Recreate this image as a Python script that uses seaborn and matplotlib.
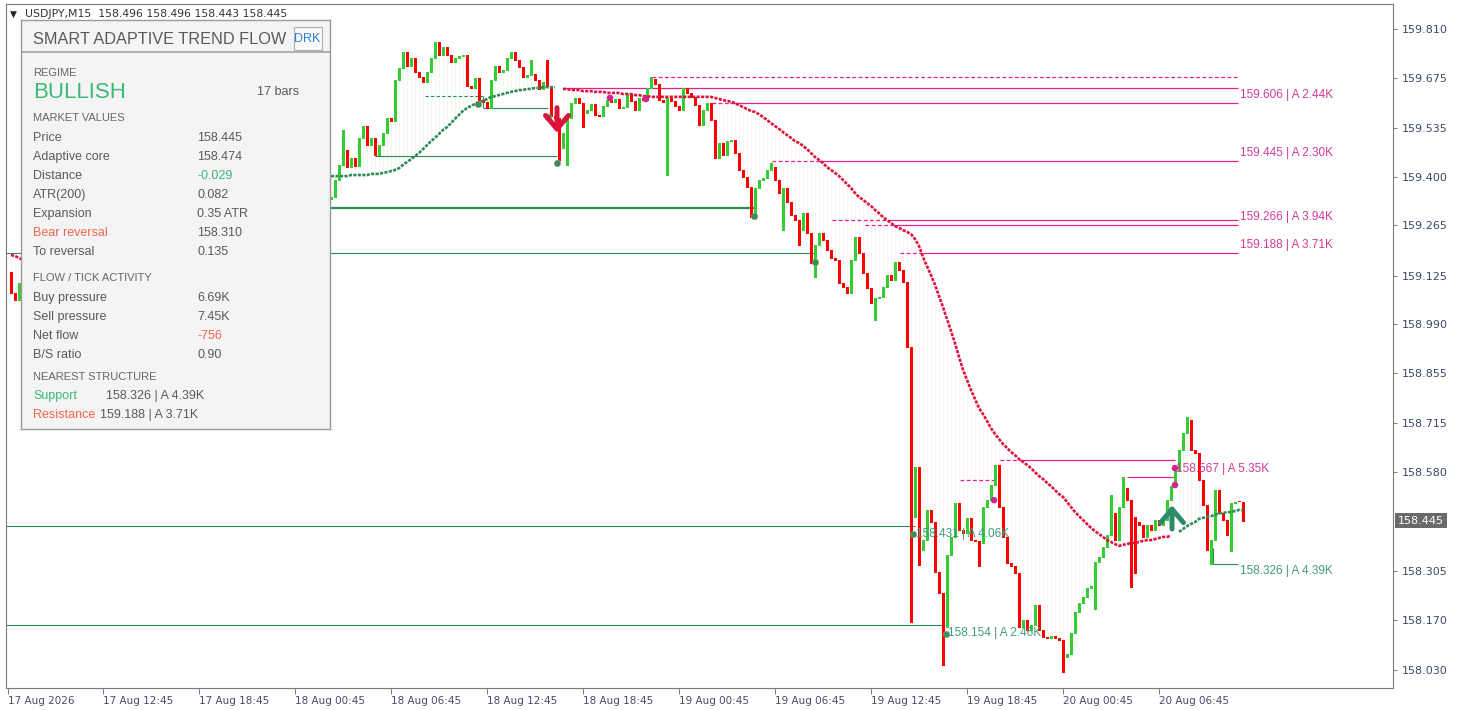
import numpy as np
import pandas as pd

import matplotlib as mpl
mpl.use('Agg')
import matplotlib.pyplot as plt
import seaborn as sns
from matplotlib.patches import Rectangle

W, H = 1457, 710

# ---------------------------------------------------------------- data
symbol = 'USDJPY,M15'
first_bar = '2026-08-17 07:00'
n_bars = 309

# bars 0-3 show at the left edge, bars 4-78 are covered by the info panel
left_open = 159.136
left_close = [159.077, 159.058, 159.105, 159.058]

main_start = 79
main_close = [
    159.338,
    159.344, 159.391, 159.433, 159.474, 159.427, 159.452, 159.430, 159.508, 159.541, 159.488,  # 80
    159.508, 159.461, 159.488, 159.522, 159.563, 159.555, 159.669, 159.702, 159.747, 159.708,  # 90
    159.730, 159.691, 159.677, 159.663, 159.691, 159.730, 159.774, 159.738, 159.760, 159.738,  # 100
    159.719, 159.730, 159.735, 159.738, 159.652, 159.647, 159.674, 159.613, 159.608, 159.591,  # 110
    159.669, 159.708, 159.691, 159.697, 159.730, 159.747, 159.724, 159.705, 159.677, 159.683,  # 120
    159.685, 159.669, 159.644, 159.663, 159.652, 159.569, 159.563, 159.480, 159.522, 159.563,  # 130
    159.605, 159.619, 159.605, 159.577, 159.586, 159.602, 159.572, 159.569, 159.597, 159.613,  # 140
    159.608, 159.616, 159.591, 159.594, 159.630, 159.611, 159.586, 159.619, 159.613, 159.647,  # 150
    159.672, 159.658, 159.613, 159.608, 159.619, 159.611, 159.597, 159.586, 159.647, 159.633,  # 160
    159.622, 159.599, 159.544, 159.586, 159.605, 159.558, 159.452, 159.494, 159.461, 159.499,  # 170
    159.502, 159.466, 159.419, 159.399, 159.372, 159.316, 159.369, 159.391, 159.397, 159.419,  # 180
    159.427, 159.391, 159.355, 159.369, 159.330, 159.294, 159.280, 159.252, 159.299, 159.244,  # 190
    159.161, 159.211, 159.244, 159.225, 159.197, 159.175, 159.169, 159.105, 159.094, 159.077,  # 200
    159.169, 159.233, 159.188, 159.133, 159.091, 159.050, 159.063, 159.066, 159.094, 159.127,  # 210
    159.113, 159.163, 159.141, 159.108, 158.927, 158.455, 158.594, 158.364, 158.391, 158.475,  # 220
    158.441, 158.303, 158.244, 158.150, 158.350, 158.400, 158.494, 158.419, 158.411, 158.453,  # 230
    158.391, 158.388, 158.383, 158.483, 158.502, 158.544, 158.600, 158.483, 158.400, 158.328,  # 240
    158.319, 158.300, 158.150, 158.169, 158.141, 158.155, 158.211, 158.141, 158.122, 158.119,  # 250
    158.125, 158.119, 158.114, 158.067, 158.075, 158.133, 158.191, 158.216, 158.233, 158.258,  # 260
    158.264, 158.330, 158.344, 158.372, 158.405, 158.466, 158.391, 158.483, 158.536, 158.502,  # 270
    158.455, 158.441, 158.433, 158.400, 158.433, 158.419, 158.447, 158.433, 158.447, 158.502,  # 280
    158.541, 158.586, 158.641, 158.689, 158.725, 158.641, 158.633, 158.558, 158.489, 158.364,  # 290
    158.391, 158.530, 158.466, 158.447, 158.405, 158.494, 158.497, 158.496, 158.445,           # 300
]

# wicks that stick out clearly beyond the body
hi_wick = {83: 159.530, 130: 159.724, 134: 159.724, 160: 159.677, 190: 159.438,
           275: 158.516, 278: 158.566, 294: 158.733, 308: 158.496}
lo_wick = {137: 159.447, 139: 159.433, 143: 159.538, 164: 159.405, 185: 159.288,
           186: 159.299, 193: 159.252, 197: 159.211, 201: 159.122, 216: 159.002,
           225: 158.164, 227: 158.322, 233: 158.044, 242: 158.319, 263: 158.025,
           271: 158.200, 280: 158.260, 281: 158.300, 300: 158.326, 305: 158.360,
           308: 158.443}

# adaptive core line
core_left = [159.183, 159.180, 159.175, 159.169]
core_start = 80
core_main = [
    159.402, 159.402, 159.402, 159.402, 159.402, 159.405, 159.405, 159.405, 159.405, 159.405,  # 80
    159.408, 159.408, 159.408, 159.411, 159.413, 159.416, 159.419, 159.424, 159.433, 159.441,  # 90
    159.449, 159.458, 159.466, 159.477, 159.488, 159.499, 159.508, 159.519, 159.530, 159.538,  # 100
    159.549, 159.561, 159.572, 159.583, 159.591, 159.597, 159.602, 159.608, 159.611, 159.616,  # 110
    159.622, 159.624, 159.627, 159.630, 159.633, 159.636, 159.638, 159.641, 159.641, 159.644,  # 120
    159.644, 159.647, 159.647, 159.649, 159.649, 159.649, 159.649, None, 159.644, 159.644,     # 130
    159.641, 159.641, 159.641, 159.638, 159.638, 159.638, 159.636, 159.636, 159.636, 159.633,  # 140
    159.633, 159.633, 159.633, 159.630, 159.630, 159.630, 159.627, 159.627, 159.624, 159.624,  # 150
    159.622, 159.622, 159.622, 159.622, 159.622, 159.622, 159.622, 159.622, 159.622, 159.622,  # 160
    159.622, 159.622, 159.622, 159.622, 159.622, 159.622, 159.619, 159.616, 159.613, 159.611,  # 170
    159.608, 159.605, 159.599, 159.594, 159.588, 159.583, 159.580, 159.574, 159.566, 159.558,  # 180
    159.549, 159.541, 159.533, 159.524, 159.516, 159.508, 159.499, 159.494, 159.486, 159.477,  # 190
    159.466, 159.455, 159.447, 159.438, 159.427, 159.419, 159.411, 159.402, 159.391, 159.380,  # 200
    159.369, 159.355, 159.344, 159.336, 159.327, 159.319, 159.308, 159.299, 159.288, 159.280,  # 210
    159.272, 159.263, 159.258, 159.252, 159.247, 159.241, 159.227, 159.208, 159.177, 159.152,  # 220
    159.127, 159.100, 159.069, 159.038, 159.005, 158.972, 158.938, 158.900, 158.864, 158.836,  # 230
    158.808, 158.783, 158.758, 158.741, 158.722, 158.702, 158.686, 158.672, 158.658, 158.647,  # 240
    158.636, 158.627, 158.616, 158.608, 158.600, 158.591, 158.580, 158.569, 158.561, 158.550,  # 250
    158.541, 158.530, 158.519, 158.511, 158.497, 158.483, 158.469, 158.458, 158.447, 158.436,  # 260
    158.425, 158.416, 158.408, 158.400, 158.391, 158.386, 158.380, 158.375, 158.378, 158.380,  # 270
    158.383, 158.383, 158.386, 158.389, 158.391, 158.391, 158.394, 158.397, 158.400, 158.400,  # 280
    158.403, None, 158.414, 158.422, 158.430, 158.436, 158.441, 158.450, 158.453, 158.455,     # 290
    158.458, 158.461, 158.466, 158.466, 158.469, 158.469, 158.472, 158.475, 158.474,           # 300
]
regimes = [(0, 3, 'bear'), (80, 136, 'bull'), (138, 290, 'bear'), (292, 308, 'bull')]

# structure levels: price, first bar, last bar
support_solid = [(159.313, 40, 186, 'thick'), (159.188, -1.5, 201, 'thin'),
                 (158.431, -1.5, 226, 'thin'), (158.154, -1.5, 233.5, 'thin'),
                 (159.458, 91, 136.5, 'thin'), (159.591, 118, 134.25, 'thin'),
                 (158.326, 300.5, 306.75, 'thin')]
support_dashed = [(159.624, 103.5, 118)]
# price, dashed from, solid from, end
resist_lines = [(159.677, 160.25, None, 306.75), (159.646, None, 138.5, 306.75),
                (159.606, 175.25, 179.75, 306.75), (159.445, 190.25, 202.25, 306.75),
                (159.280, 205.25, 219.25, 306.75), (159.266, 213.5, 220.5, 306.75),
                (159.188, 222.25, 227.75, 306.75), (158.613, 247.25, 252.75, 291),
                (158.566, None, 279, 291), (158.558, 237.25, None, 246.75)]

resist_labels = [(307.25, 159.606, '159.606 | A 2.44K'), (307.25, 159.445, '159.445 | A 2.30K'),
                 (307.25, 159.266, '159.266 | A 3.94K'), (307.25, 159.188, '159.188 | A 3.71K'),
                 (291.25, 158.566, '158.567 | A 5.35K')]
support_labels = [(226.25, 158.431, '158.431 | A 4.06K'), (234.25, 158.154, '158.154 | A 2.46K'),
                  (307.25, 158.326, '158.326 | A 4.39K')]

green_dots_bar = [116.75, 134.25, 136.5, 185.75, 201, 225.5, 233.75]
green_dots_px = [159.602, 159.566, 159.438, 159.291, 159.163, 158.408, 158.130]
pink_dots_bar = [149.75, 158.75, 245.75, 291, 291]
pink_dots_px = [159.619, 159.616, 158.502, 158.591, 158.544]

sell_arrow = (136.5, 159.592, 159.522)
buy_arrow = (290.25, 158.422, 158.488)

ytick_vals = [159.810, 159.675, 159.535, 159.400, 159.265, 159.125, 158.990,
              158.855, 158.715, 158.580, 158.305, 158.170, 158.030]
bid = 158.445
ohlc_text = '158.496 158.496 158.443 158.445'

panel_rows_market = [('Price', '158.445'), ('Adaptive core', '158.474'), ('Distance', '-0.029'),
                     ('ATR(200)', '0.082'), ('Expansion', '0.35 ATR'), ('Bear reversal', '158.310'),
                     ('To reversal', '0.135')]
panel_rows_flow = [('Buy pressure', '6.69K'), ('Sell pressure', '7.45K'),
                   ('Net flow', '-756'), ('B/S ratio', '0.90')]

# ---------------------------------------------------------------- colours
BULL = '#32cd32'
BEAR = '#ff0000'
CORE_BULL = '#2e8b57'
CORE_BEAR = '#dc143c'
PINK = '#e3208c'
PINK_TXT = '#d43a98'
SUP = '#2e8b57'
SUP_TXT = '#3f9c7c'
TXT = '#5a5a5a'
POS = '#3cb878'
NEG = '#f2664c'

sns.set_theme(style='white')
plt.rcParams['font.family'] = ['DejaVu Sans']

# ---------------------------------------------------------------- arrays
times = pd.date_range(first_bar, periods=n_bars, freq='15min')
x = np.arange(n_bars)

close = np.full(n_bars, np.nan)
close[:len(left_close)] = left_close
close[main_start:main_start + len(main_close)] = main_close
assert main_start + len(main_close) == n_bars
opn = np.concatenate([[left_open], close[:-1]])
hi = np.fmax(opn, close)
lo = np.fmin(opn, close)
for b, v in hi_wick.items():
    hi[b] = v
for b, v in lo_wick.items():
    lo[b] = v

core = np.full(n_bars, np.nan)
core[:len(core_left)] = core_left
core[core_start:] = np.array(core_main, dtype=float)
assert core_start + len(core_main) == n_bars

bull_regime = np.zeros(n_bars, dtype=bool)
for s, e, kind in regimes:
    if kind == 'bull':
        bull_regime[s:e + 1] = True

fig = plt.figure(figsize=(W / 100, H / 100), dpi=100)
fig.patch.set_facecolor('white')
L, R, T, B = 6, 1393, 4, 688
ax = fig.add_axes([L / W, 1 - B / H, (R - L) / W, (B - T) / H])
ax.set_facecolor('white')

px_x = lambda px: (px - 11) / 4.0
ax.set_xlim(px_x(L), px_x(R))
ax.set_ylim(159.891 - B / 360.1, 159.891 - T / 360.1)

# faint connectors between core and price (very light hairlines)
conn = ~np.isnan(core) & ~np.isnan(close)
for sel, c in [(conn & bull_regime, '#eaf7ee'), (conn & ~bull_regime, '#fff0f4')]:
    ax.vlines(x[sel], core[sel], close[sel], color=c, lw=0.55, zorder=1)

# candles
ok = ~np.isnan(close) & ~np.isnan(opn)
up = close >= opn
body_lo = np.fmin(opn, close)
body_h = np.maximum(np.abs(close - opn), 0.0028)
for sel, c in [(ok & up, BULL), (ok & ~up, BEAR)]:
    ax.vlines(x[sel], lo[sel], hi[sel], color=c, lw=0.75, zorder=3, antialiased=False)
    ax.bar(x[sel], body_h[sel], bottom=body_lo[sel], width=0.75, color=c,
           linewidth=0, zorder=3, antialiased=False)

# structure levels
for p, b0, b1, w in support_solid:
    ax.hlines(p, b0, b1, color=SUP, lw=1.6 if w == 'thick' else 0.8, zorder=2)
for p, b0, b1 in support_dashed:
    ax.hlines(p, b0, b1, color=SUP, lw=0.8, linestyles=(0, (3, 2)), zorder=2)
ax.vlines([118, 300.5], [159.591, 158.326], [159.624, 158.370], color=SUP, lw=0.8, zorder=2)
for p, d0, s0, b1 in resist_lines:
    if d0 is not None:
        ax.hlines(p, d0, s0 if s0 is not None else b1, color=PINK, lw=0.9,
                  linestyles=(0, (3, 2)), zorder=2)
    if s0 is not None:
        ax.hlines(p, s0, b1, color=PINK, lw=0.9, zorder=2)

# adaptive core, drawn per regime
for s, e, kind in regimes:
    sns.lineplot(x=x[s:e + 1], y=core[s:e + 1], ax=ax, lw=1.9,
                 color=CORE_BULL if kind == 'bull' else CORE_BEAR,
                 linestyle=(0, (1.2, 0.5)), zorder=4)

sns.scatterplot(x=green_dots_bar, y=green_dots_px, ax=ax, color='#2f8f6a', s=22,
                edgecolor='#b8a040', linewidth=0.4, zorder=6)
sns.scatterplot(x=pink_dots_bar, y=pink_dots_px, ax=ax, color='#d4238f', s=22,
                edgecolor='none', zorder=6)

arrow_style = '->,head_length=0.65,head_width=0.55'
ax.annotate('', xy=(sell_arrow[0], sell_arrow[2]), xytext=(sell_arrow[0], sell_arrow[1]),
            arrowprops=dict(arrowstyle=arrow_style, color=CORE_BEAR, lw=3.6,
                            mutation_scale=15, shrinkA=0, shrinkB=0), zorder=7)
ax.annotate('', xy=(buy_arrow[0], buy_arrow[2]), xytext=(buy_arrow[0], buy_arrow[1]),
            arrowprops=dict(arrowstyle=arrow_style, color='#2e8b6a', lw=3.6,
                            mutation_scale=15, shrinkA=0, shrinkB=0), zorder=7)

for bx, p, t in resist_labels:
    ax.text(bx, p + 0.022, t, color=PINK_TXT, fontsize=8.5, family='Liberation Sans',
            ha='left', va='center', zorder=8)
for bx, p, t in support_labels:
    ax.text(bx, p - 0.022, t, color=SUP_TXT, fontsize=8.5, family='Liberation Sans',
            ha='left', va='center', zorder=8)

# axes look
for sp in ax.spines.values():
    sp.set_color('#7a7a7a')
    sp.set_linewidth(0.8)
ax.grid(False)
ax.yaxis.tick_right()
ax.set_yticks(ytick_vals)
ax.set_yticklabels([f'{v:.3f}' for v in ytick_vals])
ax.tick_params(axis='y', right=True, length=3, width=0.7, color='#7a7a7a', labelsize=8,
               labelcolor='#3c4866', pad=3)

tick_bars = [i for i, t in enumerate(times) if t.minute == 45 and t.hour % 6 == 0]
tick_labels = [times[0].strftime('%d %b %Y')] + [times[i].strftime('%d %b %H:%M') for i in tick_bars]
ax.set_xticks([px_x(8)] + tick_bars)
ax.set_xticklabels(tick_labels)
ax.tick_params(axis='x', bottom=True, length=4, width=0.7, color='#7a7a7a', labelsize=7.5,
               labelcolor='#4a4a6a', pad=2)
for lab in ax.get_xticklabels():
    lab.set_ha('left')
ax.set_xlabel('')
ax.set_ylabel('')

ax.annotate(f'{bid:.3f}', xy=(1, bid), xycoords=ax.get_yaxis_transform(),
            xytext=(3.5, 0), textcoords='offset points', ha='left', va='center',
            fontsize=8, color='white',
            bbox=dict(boxstyle='square,pad=0.25', fc='#6a6a6a', ec='none'))

fig.text(10 / W, 1 - 14 / H, '\u25bc', fontsize=6.5, color='#222222', va='center')
fig.text(25 / W, 1 - 14 / H, f'{symbol}  {ohlc_text}', fontsize=7.8, color='#333333',
         va='center')

# ---------------------------------------------------------------- info panel
px0, py0, px1, py1 = 21, 20, 330, 429
pan = fig.add_axes([px0 / W, 1 - py1 / H, (px1 - px0) / W, (py1 - py0) / H])
pan.set_zorder(10)
pan.set_xlim(px0, px1)
pan.set_ylim(py1, py0)
pan.set_facecolor('#f4f4f4')
pan.set_xticks([])
pan.set_yticks([])
for sp in pan.spines.values():
    sp.set_color('#9a9a9a')
    sp.set_linewidth(1.0)
pan.grid(False)

pf = dict(family='Liberation Sans', va='center', ha='left')
pan.text(33, 39, 'SMART ADAPTIVE TREND FLOW', fontsize=11.7, color=TXT, **pf)
pan.hlines(52, px0, px1, color='#a4a4a4', lw=1.2)
btn = Rectangle((294, 27), 28, 23, fc='#f9f9f9', ec='#b0b0b0', lw=0.8)
pan.add_patch(btn)
dt = pan.text(294, 38.5, 'DRK', fontsize=9, color='#2f7fd4', **pf)
dt.set_clip_path(btn)

pan.text(33, 73, 'REGIME', fontsize=8, color='#666666', **pf)
pan.text(33, 92, 'BULLISH', fontsize=16, color=POS, **pf)
pan.text(257, 92, '17 bars', fontsize=9, color=TXT, **pf)
pan.text(33, 118, 'MARKET VALUES', fontsize=8, color='#666666', **pf)
for k, (name, val) in enumerate(panel_rows_market):
    yy = 138 + 19 * k
    pan.text(33, yy, name, fontsize=9, color=NEG if name == 'Bear reversal' else TXT, **pf)
    pan.text(197, yy, val, fontsize=9, color=POS if name == 'Distance' else TXT, **pf)
pan.text(33, 278, 'FLOW / TICK ACTIVITY', fontsize=8, color='#666666', **pf)
for k, (name, val) in enumerate(panel_rows_flow):
    yy = 298 + 19 * k
    pan.text(33, yy, name, fontsize=9, color=TXT, **pf)
    pan.text(197, yy, val, fontsize=9, color=NEG if name == 'Net flow' else TXT, **pf)
pan.text(33, 377, 'NEAREST STRUCTURE', fontsize=8, color='#666666', **pf)
pan.text(33, 396, 'Support', fontsize=9, color=POS, **pf)
pan.text(106, 396, support_labels[2][2], fontsize=9, color=TXT, **pf)
pan.text(33, 415, 'Resistance', fontsize=9, color=NEG, **pf)
pan.text(100, 415, resist_labels[3][2], fontsize=9, color=TXT, **pf)

fig.savefig('out.png', dpi=100, facecolor='white')
